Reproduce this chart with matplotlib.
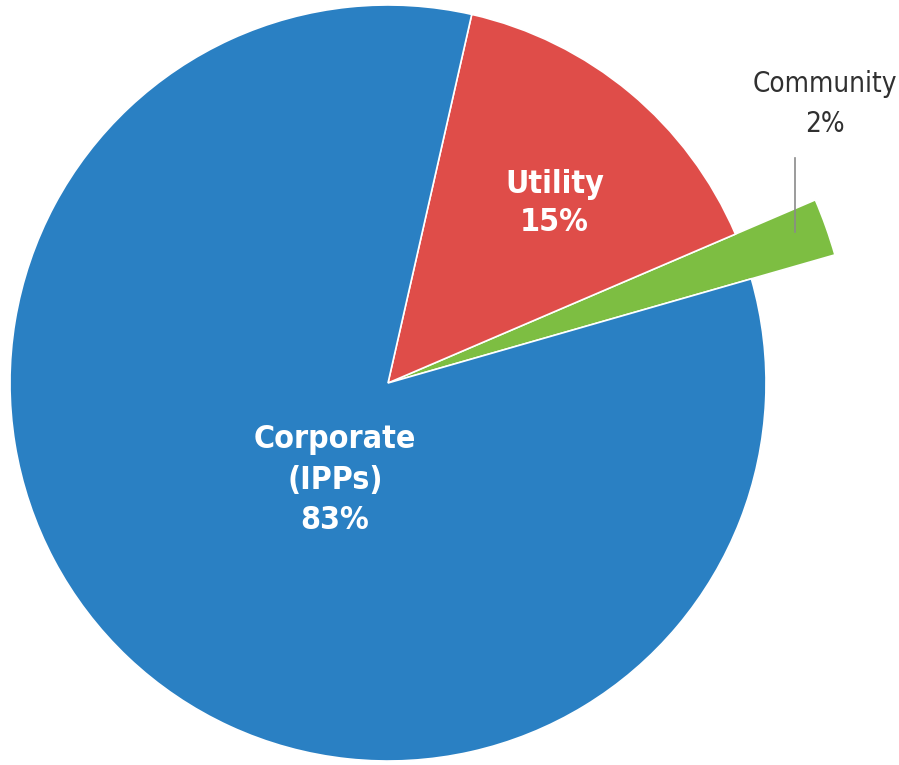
import matplotlib.pyplot as plt

# Ownership shares
labels = ["Community", "Utility", "Corporate\n(IPPs)"]
shares = [2, 15, 83]
colors = ["#7dbe42", "#df4d49", "#2a80c3"]

fig = plt.figure(figsize=(8.99, 7.65), dpi=100)
ax = fig.add_axes([0, 0, 1, 1])

wedges, _ = ax.pie(shares, colors=colors, startangle=16, radius=1,
                   wedgeprops=dict(edgecolor="white", linewidth=1.2))
# the small slice sticks out past the rim
wedges[0].set_radius(1.23)

ax.set_xlim(-388 / 378, (899 - 388) / 378)
ax.set_ylim(-(765 - 383) / 378, 383 / 378)
ax.set_aspect("equal")
ax.axis("off")

txt = dict(family="DejaVu Sans", fontstretch="condensed",
           ha="center", va="center")
ax.text(-0.14, -0.257, f"{labels[2]}\n{shares[2]}%", color="white",
        fontsize=23, fontweight="bold", linespacing=1.4, **txt)
ax.text(0.44, 0.475, f"{labels[1]}\n{shares[1]}%", color="white",
        fontsize=23, fontweight="bold", linespacing=1.3, **txt)
ax.text(1.155, 0.738, f"{labels[0]}\n{shares[0]}%", color="#303030",
        fontsize=20, linespacing=1.55, **txt)
ax.plot([1.077, 1.077], [0.595, 0.40], color="#8a8a8a", linewidth=1.2)

fig.savefig("out.png", dpi=100)
